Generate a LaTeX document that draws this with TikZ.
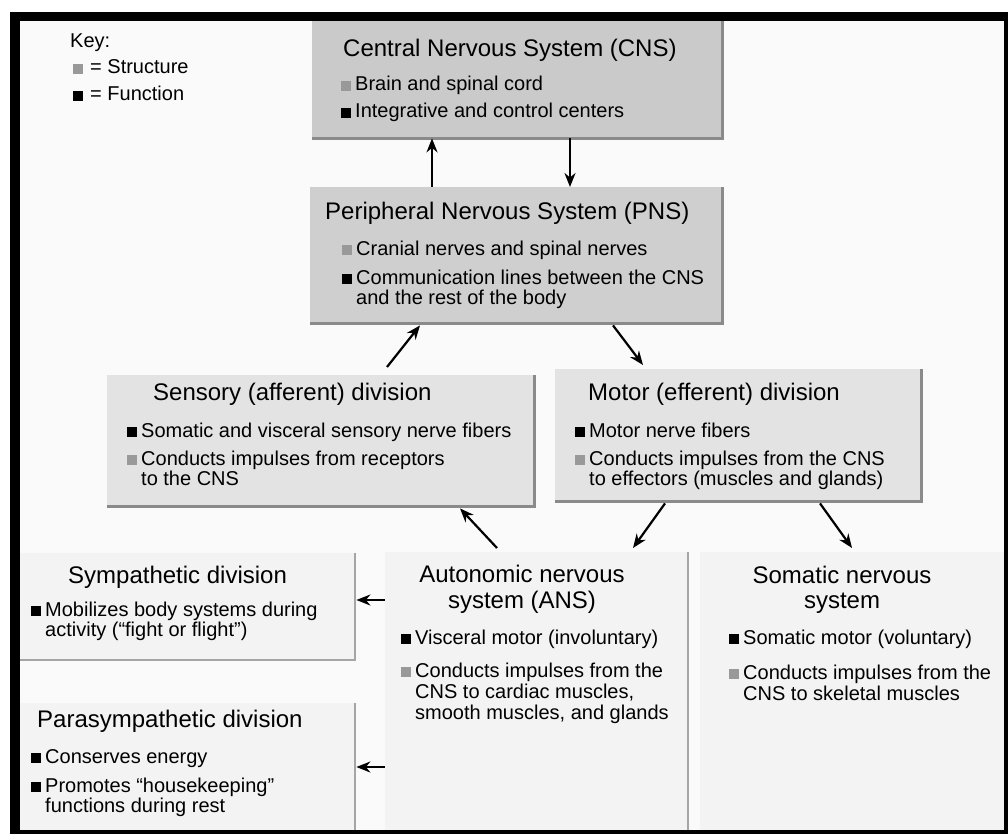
\documentclass[tikz,border=0pt]{standalone}
\usepackage{fontspec}
\setmainfont{Liberation Sans}
\usetikzlibrary{arrows.meta}
\definecolor{pagebg}{HTML}{FAFAFA}
\definecolor{cnsfill}{HTML}{CACACA}
\definecolor{pnsfill}{HTML}{CFCFCF}
\definecolor{midfill}{HTML}{E3E3E3}
\definecolor{lowfill}{HTML}{F3F3F3}
\definecolor{edgegray}{HTML}{8A8A8A}
\definecolor{lowedge}{HTML}{A5A5A5}
\definecolor{bulgray}{HTML}{999999}
\newcommand\ttlfont{\fontsize{24}{28}\selectfont}
\newcommand\bdyfont{\fontsize{20}{22}\selectfont}
\newcommand\fbul{\rule{10pt}{10pt}\hspace{4pt}}
\newcommand\sbul{{\color{bulgray}\rule{10pt}{10pt}}\hspace{4pt}}
\begin{document}
\begin{tikzpicture}[x=1pt,y=-1pt,
  box/.style={draw=none,inner sep=0pt,anchor=north west},
  edge/.style={draw=edgegray,line width=2.5pt},
  lowline/.style={draw=lowedge,line width=2pt},
  ttl/.style={inner sep=0pt,anchor=base west,font=\ttlfont},
  ttlc/.style={inner sep=0pt,anchor=base,font=\ttlfont},
  txt/.style={inner sep=0pt,anchor=base west,font=\bdyfont},
  arr/.style={draw=black,line width=2.2pt,-{Stealth[length=14pt,width=11pt]}}]
\useasboundingbox (0,0) rectangle (1008,834);
\fill[white] (0,0) rectangle (1008,834);
\fill[black] (10,12) rectangle (1008,834);
\fill[pagebg] (20,21) rectangle (1004,830);

% boxes
\node[box,fill=cnsfill,minimum width=410pt,minimum height=117pt] (cns) at (312,21) {};
\node[box,fill=pnsfill,minimum width=412pt,minimum height=136pt] (pns) at (310,187) {};
\node[box,fill=midfill,minimum width=427pt,minimum height=131pt] (sens) at (107,375) {};
\node[box,fill=midfill,minimum width=366pt,minimum height=132pt] (motor) at (555,369) {};
\node[box,fill=lowfill,minimum width=335pt,minimum height=107pt] (symp) at (20,553) {};
\node[box,fill=lowfill,minimum width=335pt,minimum height=127pt] (para) at (20,703) {};
\node[box,fill=lowfill,minimum width=303pt,minimum height=278pt] (ans) at (385,552) {};
\node[box,fill=lowfill,minimum width=304pt,minimum height=278pt] (som) at (700,552) {};

% shadow edges
\draw[edge] (cns.north east) -- (cns.south east) -- (cns.south west);
\draw[edge] (pns.north east) -- (pns.south east) -- (pns.south west);
\draw[edge] (sens.north east) -- (sens.south east) -- (sens.south west);
\draw[edge] (motor.north east) -- (motor.south east) -- (motor.south west);
\draw[lowline] (symp.north east) -- (symp.south east) -- (symp.south west);
\draw[lowline] (para.north east) -- (para.south east);
\draw[lowline] (ans.north east) -- (ans.south east);

% key
\node[txt] (keyt) at (70,48) {Key:};
\node[txt] (keys) at (73,74) {{\color{bulgray}\rule{10pt}{10pt}}\hspace{7pt}= Structure};
\node[txt] (keyf) at (73,101) {\rule{10pt}{10pt}\hspace{7pt}= Function};

% CNS
\node[ttl] (cnst) at (343,57) {Central Nervous System (CNS)};
\node[txt] (cns1) at (341,91) {\sbul Brain and spinal cord};
\node[txt] (cns2) at (341,118) {\fbul Integrative and control centers};

% PNS
\node[ttl] (pnst) at (325,220) {Peripheral Nervous System (PNS)};
\node[txt] (pns1) at (342,255) {\sbul Cranial nerves and spinal nerves};
\node[txt] (pns2) at (342,284) {\fbul Communication lines between the CNS};
\node[txt] (pns3) at (356,304) {and the rest of the body};

% Sensory
\node[ttl] (senst) at (153,400) {Sensory (afferent) division};
\node[txt] (sens1) at (127,437) {\fbul Somatic and visceral sensory nerve fibers};
\node[txt] (sens2) at (127,465) {\sbul Conducts impulses from receptors};
\node[txt] (sens3) at (141,485) {to the CNS};

% Motor
\node[ttl] (motort) at (588,400) {Motor (efferent) division};
\node[txt] (motor1) at (575,437) {\fbul Motor nerve fibers};
\node[txt] (motor2) at (575,465) {\sbul Conducts impulses from the CNS};
\node[txt] (motor3) at (589,485) {to effectors (muscles and glands)};

% Sympathetic
\node[ttl] (sympt) at (68,583) {Sympathetic division};
\node[txt] (symp1) at (31,616) {\fbul Mobilizes body systems during};
\node[txt] (symp2) at (45,636) {activity (“fight or flight”)};

% Parasympathetic
\node[ttl] (parat) at (37,727) {Parasympathetic division};
\node[txt] (para1) at (31,763) {\fbul Conserves energy};
\node[txt] (para2) at (31,792) {\fbul Promotes “housekeeping”};
\node[txt] (para3) at (45,812) {functions during rest};

% ANS
\node[ttlc] (anst1) at (522,582) {Autonomic nervous};
\node[ttlc] (anst2) at (522,608) {system (ANS)};
\node[txt] (ans1) at (401,644) {\fbul Visceral motor (involuntary)};
\node[txt] (ans2) at (401,677) {\sbul Conducts impulses from the};
\node[txt] (ans3) at (415,698) {CNS to cardiac muscles,};
\node[txt] (ans4) at (415,719) {smooth muscles, and glands};

% Somatic
\node[ttlc] (somt1) at (842,583) {Somatic nervous};
\node[ttlc] (somt2) at (842,608) {system};
\node[txt] (som1) at (729,644) {\fbul Somatic motor (voluntary)};
\node[txt] (som2) at (729,679) {\sbul Conducts impulses from the};
\node[txt] (som3) at (743,700) {CNS to skeletal muscles};

% arrows
\draw[arr] (pns.north -| 432,0) -- (cns.south -| 432,0);
\draw[arr] (cns.south -| 570,0) -- (pns.north -| 570,0);
\draw[arr] ([yshift=8pt]sens.north -| 387,0) -- ([yshift=-2pt]pns.south -| 420,0);
\draw[arr] ([yshift=-2pt]pns.south -| 613,0) -- ([yshift=4pt]motor.north -| 643,0);
\draw[arr] ([yshift=4pt]ans.north -| 497,0) -- ([yshift=-2pt]sens.south -| 460,0);
\draw[arr] ([yshift=-2pt]motor.south -| 665,0) -- ([yshift=4pt]ans.north -| 633,0);
\draw[arr] ([yshift=-2pt]motor.south -| 820,0) -- ([yshift=4pt]som.north -| 852,0);
\draw[arr] (ans.west |- 0,600) -- ([xshift=1pt]symp.east |- 0,600);
\draw[arr] (ans.west |- 0,767) -- ([xshift=1pt]para.east |- 0,767);
\end{tikzpicture}
\end{document}
